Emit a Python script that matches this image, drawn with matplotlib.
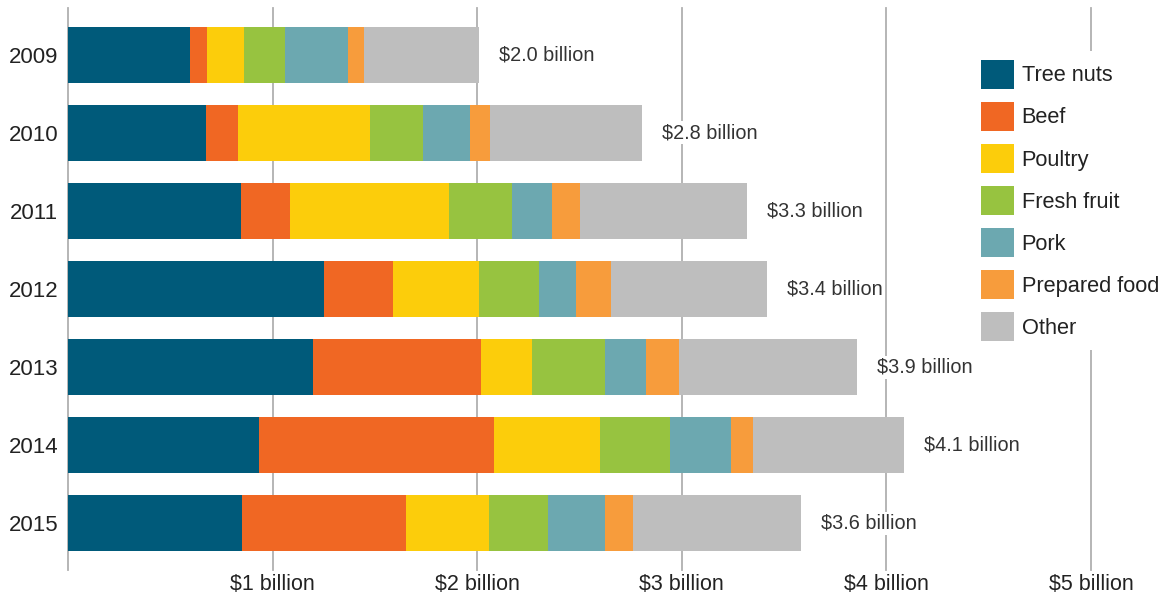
import matplotlib
matplotlib.use("Agg")
import matplotlib.pyplot as plt
import numpy as np

plt.rcParams['font.family'] = ['Liberation Sans', 'DejaVu Sans']

years = ["2009", "2010", "2011", "2012", "2013", "2014", "2015"]
categories = ["Tree nuts", "Beef", "Poultry", "Fresh fruit", "Pork", "Prepared food", "Other"]
tree_nuts = [0.596, 0.675, 0.846, 1.251, 1.197, 0.934, 0.850]
beef = [0.083, 0.156, 0.240, 0.337, 0.821, 1.149, 0.800]
poultry = [0.180, 0.645, 0.777, 0.420, 0.249, 0.518, 0.406]
fresh_fruit = [0.200, 0.260, 0.308, 0.293, 0.357, 0.342, 0.288]
pork = [0.310, 0.230, 0.195, 0.181, 0.200, 0.298, 0.279]
prepared_food = [0.078, 0.098, 0.137, 0.171, 0.161, 0.108, 0.137]
other = [0.560, 0.743, 0.816, 0.762, 0.870, 0.738, 0.821]
total_labels = ["$2.0 billion", "$2.8 billion", "$3.3 billion", "$3.4 billion",
                "$3.9 billion", "$4.1 billion", "$3.6 billion"]
tick_values = [1, 2, 3, 4, 5]
tick_labels = ["$1 billion", "$2 billion", "$3 billion", "$4 billion", "$5 billion"]

series = [tree_nuts, beef, poultry, fresh_fruit, pork, prepared_food, other]
colors = ["#005a7a", "#f06723", "#fccd0b", "#97c340", "#6ca8b0", "#f79c3c", "#bebebe"]

fig = plt.figure(figsize=(11.64, 5.97), dpi=100)
ax = fig.add_axes([68/1164, 1-570/597, (1091-68)/1164, (570-8)/597])

y = np.arange(len(years))
left = np.zeros(len(years))
for vals, c, name in zip(series, colors, categories):
    ax.barh(y, vals, left=left, height=0.72, color=c, label=name, linewidth=0, zorder=2)
    left = left + np.array(vals)

for yi, tot, lab in zip(y, left, total_labels):
    ax.annotate(lab, xy=(tot, yi), xytext=(20, 0), textcoords='offset pixels',
                ha='left', va='center', fontsize=14.3, color='#333333', zorder=4,
                bbox=dict(boxstyle='square,pad=0.1', fc='white', ec='none'))

ax.set_xlim(0, 5)
ax.set_ylim(len(years) - 0.4, -0.6)
for v in [0] + tick_values:
    ax.axvline(v, color='#b0b0b0', linewidth=1.3, zorder=1, clip_on=False)

ax.set_yticks(y)
ax.set_yticklabels(years, fontsize=16, color='#222222')
ax.set_xticks(tick_values)
ax.set_xticklabels(tick_labels, fontsize=15.5, color='#222222')
ax.tick_params(axis='both', length=0)
ax.tick_params(axis='y', pad=7)
ax.tick_params(axis='x', pad=3)
for s in ax.spines.values():
    s.set_visible(False)

leg = ax.legend(loc='upper left', bbox_to_anchor=(972/1164, 1-51/597), bbox_transform=fig.transFigure,
                fontsize=15.7, frameon=True, facecolor='white', edgecolor='none', framealpha=1,
                handlelength=1.51, handleheight=1.67, labelspacing=0.6, handletextpad=0.37,
                borderpad=0.4, borderaxespad=0)
leg.set_zorder(5)
for t in leg.get_texts():
    t.set_color('#222222')

fig.savefig("out.png", dpi=100, facecolor='white')
